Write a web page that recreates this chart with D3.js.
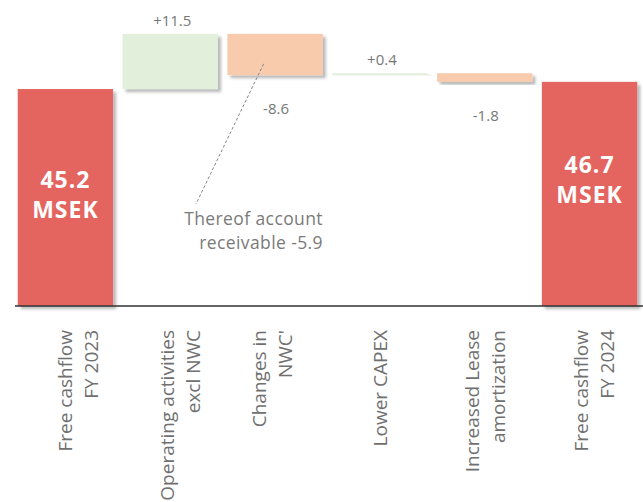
<!DOCTYPE html>
<html>
<head>
<meta charset="utf-8">
<script src="https://cdn.jsdelivr.net/npm/d3@7"></script>
<style>
    body { margin: 0; background: #fff; }
    text { font-family: "Open Sans", Lato, sans-serif; }
    .tick-label { font-size: 19px; fill: #707070; }
    .value-label { font-size: 15px; fill: #777; }
    .total-label { font-size: 23px; font-weight: bold; fill: #fff; letter-spacing: 1px; }
    .note { font-size: 17.5px; fill: #7a7a7a; letter-spacing: 0.4px; }
</style>
</head>
<body>
<div id="chart"></div>
<script>
// Data
// ============================================================================
const categories = [
    ["Free cashflow", "FY 2023"],
    ["Operating activities", "excl NWC"],
    ["Changes in", "NWC'"],
    ["Lower CAPEX"],
    ["Increased Lease", "amortization"],
    ["Free cashflow", "FY 2024"]
];
const values = [45.2, 11.5, -8.6, 0.4, -1.8, 46.7];
const kinds = ["total", "delta", "delta", "delta", "delta", "total"];
const valueLabels = ["45.2", "+11.5", "-8.6", "+0.4", "-1.8", "46.7"];
const noteLines = ["Thereof account", "receivable -5.9"];

// Layout
// ============================================================================
const width = 643, height = 502, baseY = 306;
const colors = {total: "#e4655e", up: "#e2efda", down: "#f8cbad"};
// small sideways nudges of the rotated category labels (px)
const labelShift = [13, 10, -3, 0, 0, 4];

// Waterfall steps
let running = 0;
const steps = values.map((v, i) => {
    let y0, y1;
    if (kinds[i] === "total") {
        y0 = 0; y1 = v; running = v;
    } else {
        y0 = running; y1 = running + v; running = y1;
    }
    return {i: i, v: v, kind: kinds[i], lo: Math.min(y0, y1), hi: Math.max(y0, y1)};
});

const svg = d3.select("#chart").append("svg")
    .attr("width", width)
    .attr("height", height);

const defs = svg.append("defs");
const shadow = defs.append("filter")
    .attr("id", "shadow")
    .attr("x", "-10%").attr("y", "-10%")
    .attr("width", "130%").attr("height", "140%");
shadow.append("feDropShadow")
    .attr("dx", 3).attr("dy", 3)
    .attr("stdDeviation", 1.5)
    .attr("flood-color", "#000")
    .attr("flood-opacity", 0.28);

const x = d3.scaleBand()
    .domain(d3.range(categories.length))
    .range([13, 642])
    .paddingInner(0.09)
    .paddingOuter(0.045);

const y = d3.scaleLinear()
    .domain([0, 60])
    .range([baseY, baseY - 288]);

// Bars
svg.append("g").selectAll("rect")
    .data(steps)
    .join("rect")
        .attr("x", d => x(d.i))
        .attr("width", x.bandwidth())
        .attr("y", d => y(d.hi))
        .attr("height", d => Math.max(1.5, y(d.lo) - y(d.hi)))
        .attr("fill", d => d.kind === "total" ? colors.total : (d.v > 0 ? colors.up : colors.down))
        .attr("filter", "url(#shadow)");

// Axis line
svg.append("line")
    .attr("x1", 15).attr("x2", width)
    .attr("y1", baseY).attr("y2", baseY)
    .attr("stroke", "#333")
    .attr("stroke-width", 1.5);

// Delta labels
svg.append("g").selectAll("text")
    .data(steps.filter(d => d.kind === "delta"))
    .join("text")
        .attr("class", "value-label")
        .attr("text-anchor", "middle")
        .attr("x", d => x(d.i) + x.bandwidth() / 2 + (d.v > 0 ? 2 : 1))
        .attr("y", d => d.v > 0 ? y(d.hi) - 8 : y(d.lo) + 39)
        .text(d => valueLabels[d.i]);

// Total labels
const totals = svg.append("g").selectAll("text")
    .data(steps.filter(d => d.kind === "total"))
    .join("text")
        .attr("class", "total-label")
        .attr("text-anchor", "middle")
        .attr("x", d => x(d.i) + x.bandwidth() / 2)
        .attr("y", d => (y(d.hi) + baseY) / 2 + (d.i === 0 ? -10 : -21));
totals.append("tspan")
    .attr("x", d => x(d.i) + x.bandwidth() / 2)
    .text(d => valueLabels[d.i]);
totals.append("tspan")
    .attr("x", d => x(d.i) + x.bandwidth() / 2)
    .attr("dy", 30)
    .text("MSEK");

// Category labels (rotated)
const tickG = svg.append("g").selectAll("text")
    .data(categories)
    .join("text")
        .attr("class", "tick-label")
        .attr("text-anchor", "end")
        .attr("transform", (d, i) => {
            const cx = x(i) + x.bandwidth() / 2 + labelShift[i];
            const first = d.length === 1 ? cx + 7 : cx - 6;
            return "translate(" + first + ",330) rotate(-90)";
        });
tickG.selectAll("tspan")
    .data(d => d)
    .join("tspan")
        .attr("x", 0)
        .attr("y", (d, j) => j * 26)
        .text(d => d);

// Annotation
const noteX = 323;
svg.append("line")
    .attr("x1", x(2) + x.bandwidth() * 0.38).attr("y1", y(values[0] + values[1]) + 30)
    .attr("x2", 196).attr("y2", 204)
    .attr("stroke", "#888")
    .attr("stroke-width", 1)
    .attr("stroke-dasharray", "3,2");

svg.append("g").selectAll("text")
    .data(noteLines)
    .join("text")
        .attr("class", "note")
        .attr("text-anchor", "end")
        .attr("x", noteX)
        .attr("y", (d, i) => 225 + i * 24)
        .text(d => d);
</script>
</body>
</html>
